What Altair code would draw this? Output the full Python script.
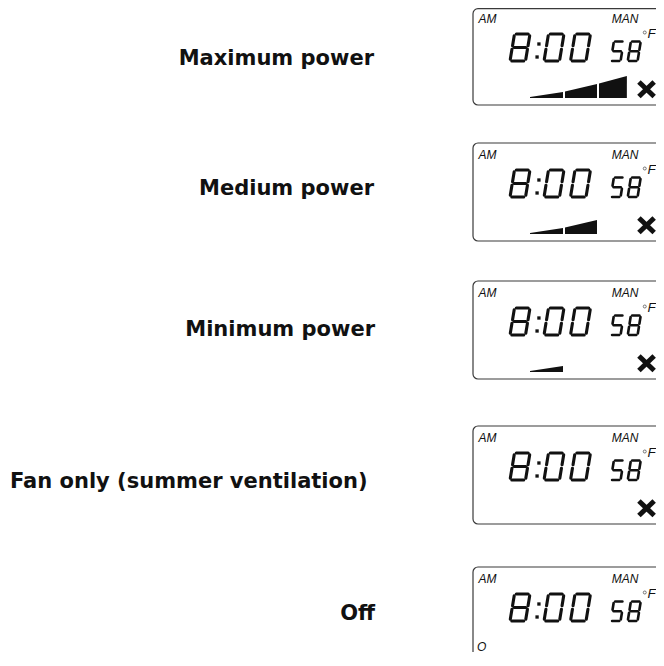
import altair as alt
import pandas as pd

# ---------------- data ----------------
labels = ["Maximum power", "Medium power", "Minimum power",
          "Fan only (summer ventilation)", "Off"]
power_levels = [3, 2, 1, 0, 0]          # lit ramp segments
fan_icon = [1, 1, 1, 1, 0]              # "X" symbol shown
off_icon = [0, 0, 0, 0, 1]              # "O" shown
time_str = "8:00"
temp_str = "58"
corner_left = "AM"
corner_right = "MAN"
unit_str = "F"
off_letter = "O"

# ---------------- layout (screen px) ----------------
W, H = 648, 644                      # drawable area: screen x 8..656, y 8..652
box_top = [7, 143, 281, 426, 567]
box_h = 98
box_left = 473
label_y = [65, 195, 336, 488, 620]          # baselines
label_x = [374, 374, 375, 10, 375]
label_align = ["right", "right", "right", "left", "right"]

SQ0, SQ1, SQ2 = 600.0, 662.0, 655.5  # squeeze x in [SQ0, SQ1] into [SQ0, SQ2]


def px(x):
    if x <= SQ0:
        return x
    return SQ0 + (x - SQ0) * (SQ2 - SQ0) / (SQ1 - SQ0)


SEGS = {"0": "abcdef", "1": "bc", "2": "abged", "3": "abgcd", "4": "fgbc",
        "5": "afgcd", "6": "afgedc", "7": "abc", "8": "abcdefg", "9": "abcdfg"}


def digit_segments(ch, x0, yb, w, h, slant, gap, size):
    pts = {"a": ((0, h), (w, h)), "b": ((w, h), (w, h / 2)),
           "c": ((w, h / 2), (w, 0)), "d": ((0, 0), (w, 0)),
           "e": ((0, 0), (0, h / 2)), "f": ((0, h / 2), (0, h)),
           "g": ((0, h / 2), (w, h / 2))}
    rows = []
    for s in SEGS[ch]:
        (u1, v1), (u2, v2) = pts[s]
        L = ((u2 - u1) ** 2 + (v2 - v1) ** 2) ** 0.5
        du, dv = (u2 - u1) / L * gap, (v2 - v1) / L * gap
        u1, v1, u2, v2 = u1 + du, v1 + dv, u2 - du, v2 - dv
        rows.append({"x": px(x0 + u1 + slant * v1 / h), "y": yb - v1,
                     "x2": px(x0 + u2 + slant * v2 / h), "y2": yb - v2,
                     "size": size})
    return rows


seg_rows, dot_rows = [], []
for p, top in enumerate(box_top):
    cur = 510
    yb = top + 54
    chars = list(time_str)
    for i, ch in enumerate(chars):
        if ch == ":":
            dot_rows.append({"x": px(cur + 0.5 + 4 * 4 / 28), "y": yb - 4})
            dot_rows.append({"x": px(cur + 0.5 + 4 * 17 / 28), "y": yb - 17})
            cur += 8
        else:
            seg_rows += digit_segments(ch, cur, yb, 15.5, 27, 4.5, 1.8, "big")
            nxt = chars[i + 1] if i + 1 < len(chars) else ""
            cur += 26 if nxt == ":" else 26.5
    cur = 612
    for ch in temp_str:
        seg_rows += digit_segments(ch, cur, yb, 11, 19.5, 3.5, 1.5, "small")
        cur += 19

segs = pd.DataFrame(seg_rows)
dots = pd.DataFrame(dot_rows)

# ramp bars
ramp_x = [530, 563, 565, 597, 599, 630]
ramp_top = [90, 85, 84.5, 77, 76.5, 69]
bar_rows = []
for p, top in enumerate(box_top):
    for k in range(power_levels[p]):
        for j in (2 * k, 2 * k + 1):
            bar_rows.append({"x": px(ramp_x[j]), "y": top + ramp_top[j],
                             "y2": top + 91, "seg": f"{p}-{k}"})
bars = pd.DataFrame(bar_rows)

# X icons
x_rows = []
for p, top in enumerate(box_top):
    if fan_icon[p]:
        x_rows.append({"x": px(643.5), "y": top + 75, "x2": px(660.5), "y2": top + 89.5})
        x_rows.append({"x": px(643.5), "y": top + 89.5, "x2": px(660.5), "y2": top + 75})
xicons = pd.DataFrame(x_rows)

boxes = pd.DataFrame({"x": [box_left] * 5, "x2": [700] * 5,
                      "y": [max(t, 8.7) for t in box_top],
                      "y2": [t + box_h for t in box_top]})

lab = pd.DataFrame({"x": label_x, "y": label_y, "t": labels, "a": label_align})

small_txt = []
for p, top in enumerate(box_top):
    small_txt.append({"x": px(478.5), "y": top + 16, "t": corner_left})
    small_txt.append({"x": px(613), "y": top + 16, "t": corner_right})
    if off_icon[p]:
        small_txt.append({"x": px(477), "y": min(top + 95, 650.5), "t": off_letter})
stxt = pd.DataFrame(small_txt)

unit_df = pd.DataFrame({"x": [px(653)] * 5, "y": [t + 31 for t in box_top],
                        "t": [unit_str] * 5})
deg = pd.DataFrame({"x": [px(650)] * 5, "y": [t + 25.5 for t in box_top]})

# ---------------- encodings ----------------
XS = alt.Scale(domain=[8, 8 + W])
YS = alt.Scale(domain=[8 + H, 8])


def X(f="x"):
    return alt.X(f"{f}:Q", scale=XS, axis=None)


def Y(f="y"):
    return alt.Y(f"{f}:Q", scale=YS, axis=None)


box_layer = alt.Chart(boxes).mark_rect(
    fill=None, fillOpacity=0, stroke="#3a3a3a", strokeWidth=1.2,
    cornerRadius=5, clip=True
).encode(x=X(), x2="x2:Q", y=Y(), y2="y2:Q")

seg_big = alt.Chart(segs[segs["size"] == "big"]).mark_rule(
    color="#111", strokeWidth=3.1, strokeCap="round", clip=True
).encode(x=X(), y=Y(), x2="x2:Q", y2="y2:Q")

seg_small = alt.Chart(segs[segs["size"] == "small"]).mark_rule(
    color="#111", strokeWidth=2.6, strokeCap="round", clip=True
).encode(x=X(), y=Y(), x2="x2:Q", y2="y2:Q")

dot_layer = alt.Chart(dots).mark_square(
    color="#111", size=11, opacity=1, clip=True
).encode(x=X(), y=Y())

bar_layer = alt.Chart(bars).mark_area(
    color="#111", clip=True, interpolate="linear"
).encode(x=X(), y=Y(), y2="y2:Q", detail="seg:N")

x_layer = alt.Chart(xicons).mark_rule(
    color="#111", strokeWidth=5, strokeCap="butt", clip=True
).encode(x=X(), y=Y(), x2="x2:Q", y2="y2:Q")

label_right = alt.Chart(lab[lab["a"] == "right"]).mark_text(
    font="DejaVu Sans", fontWeight="bold", fontSize=21, color="#111",
    align="right", baseline="alphabetic"
).encode(x=X(), y=Y(), text="t:N")

label_left = alt.Chart(lab[lab["a"] == "left"]).mark_text(
    font="DejaVu Sans", fontWeight="bold", fontSize=21, color="#111",
    align="left", baseline="alphabetic"
).encode(x=X(), y=Y(), text="t:N")

small_layer = alt.Chart(stxt).mark_text(
    font="Liberation Sans", fontStyle="italic", fontSize=12, color="#111",
    align="left", baseline="alphabetic"
).encode(x=X(), y=Y(), text="t:N")

unit_layer = alt.Chart(unit_df).mark_text(
    font="Liberation Sans", fontStyle="italic", fontSize=13.5, color="#111",
    align="left", baseline="alphabetic"
).encode(x=X(), y=Y(), text="t:N")

deg_layer = alt.Chart(deg).mark_point(
    shape="circle", size=9, stroke="#111", strokeWidth=0.8, filled=False,
    clip=True
).encode(x=X(), y=Y())

chart = alt.layer(
    box_layer, seg_big, seg_small, dot_layer, bar_layer, x_layer,
    label_right, label_left, small_layer, unit_layer, deg_layer
).properties(
    width=W, height=H, padding=0, autosize=alt.AutoSizeParams(type="none")
).configure(
    background="white", view=alt.ViewConfig(stroke=None)
)

chart.save("out.html", embed_options={"renderer": "svg", "actions": False})
